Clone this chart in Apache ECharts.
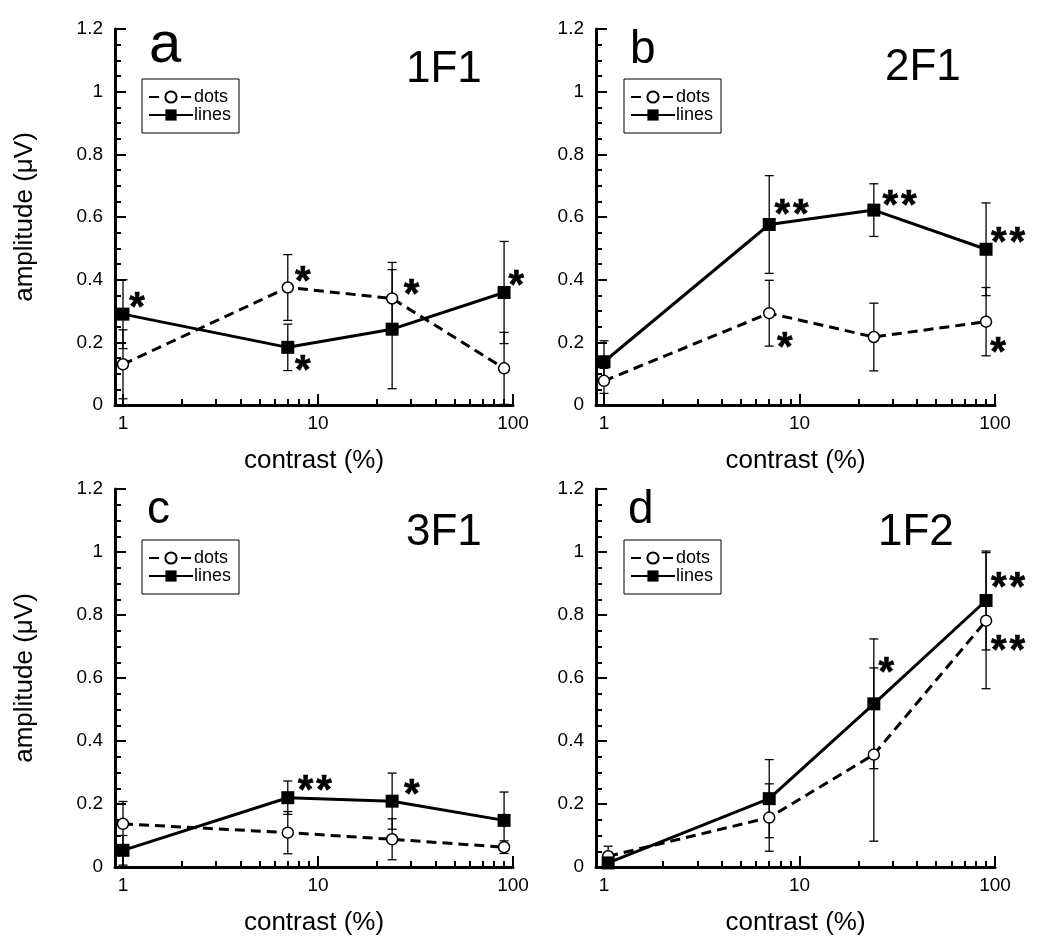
<!DOCTYPE html>
<html>
<head>
<meta charset="utf-8">
<script src="https://cdn.jsdelivr.net/npm/echarts@6/dist/echarts.min.js"></script>
<style>
  html, body { margin: 0; padding: 0; background: #fff; }
  #chart { width: 1050px; height: 947px; }
</style>
</head>
<body>
<div id="chart"></div>
<script>
// contrast levels (%)
var contrast = [1, 7, 24, 90];
var contrastD = [1.05, 7, 24, 90];

// panel a - 1F1
var dotsA = [0.13, 0.375, 0.34, 0.117];
var dotsErrA = [0.11, 0.105, 0.115, 0.115];
var linesA = [0.29, 0.184, 0.242, 0.359];
var linesErrA = [0.11, 0.074, 0.19, 0.163];
var starsA = [[1.18, 0.337, '*'], [8.36, 0.42, '*'], [8.36, 0.137, '*'], [30.2, 0.379, '*'], [104, 0.41, '*']];

// panel b - 2F1
var dotsB = [0.077, 0.293, 0.217, 0.266];
var dotsErrB = [0.04, 0.105, 0.108, 0.109];
var linesB = [0.138, 0.576, 0.622, 0.497];
var linesErrB = [0.067, 0.156, 0.084, 0.148];
var starsB = [[9.1, 0.634, '**'], [32.5, 0.664, '**'], [116.6, 0.545, '**'], [8.4, 0.212, '*'], [103.6, 0.194, '*']];

// panel c - 3F1
var dotsC = [0.137, 0.109, 0.088, 0.063];
var dotsErrC = [0.071, 0.067, 0.065, 0.02];
var linesC = [0.053, 0.22, 0.209, 0.148];
var linesErrC = [0.047, 0.053, 0.089, 0.09];
var starsC = [[9.63, 0.27, '**'], [30.3, 0.256, '*']];

// panel d - 1F2
var dotsD = [0.034, 0.157, 0.357, 0.782];
var dotsErrD = [0.032, 0.107, 0.275, 0.216];
var linesD = [0.013, 0.217, 0.518, 0.846];
var linesErrD = [0.013, 0.124, 0.206, 0.157];
var starsD = [[27.8, 0.643, '*'], [116.6, 0.915, '**'], [116.6, 0.714, '**']];

var majorTicks = [1, 10, 100];
var minorTicks = [2, 3, 4, 5, 6, 7, 8, 9, 20, 30, 40, 50, 60, 70, 80, 90];

var FONT = "'Liberation Sans', Arial, Helvetica, sans-serif";

var panels = [
  { letter: 'a', label: '1F1', xs: contrast, dots: dotsA, dotsErr: dotsErrA, lines: linesA, linesErr: linesErrA, stars: starsA,
    grid: { left: 115, top: 29, width: 398, height: 376 }, yName: true,
    legendPos: [142, 79], letterPos: [149, 46], letterSize: 58, labelPos: [406, 70] },
  { letter: 'b', label: '2F1', xs: contrast, dots: dotsB, dotsErr: dotsErrB, lines: linesB, linesErr: linesErrB, stars: starsB,
    grid: { left: 596, top: 29, width: 399, height: 376 }, yName: false,
    legendPos: [624, 79], letterPos: [630, 50], letterSize: 46, labelPos: [885, 68] },
  { letter: 'c', label: '3F1', xs: contrast, dots: dotsC, dotsErr: dotsErrC, lines: linesC, linesErr: linesErrC, stars: starsC,
    grid: { left: 115, top: 489, width: 398, height: 378 }, yName: true,
    legendPos: [142, 540], letterPos: [147, 510], letterSize: 46, labelPos: [406, 533] },
  { letter: 'd', label: '1F2', xs: contrastD, dots: dotsD, dotsErr: dotsErrD, lines: linesD, linesErr: linesErrD, stars: starsD,
    grid: { left: 596, top: 489, width: 399, height: 378 }, yName: false,
    legendPos: [624, 540], letterPos: [628, 510], letterSize: 46, labelPos: [878, 533] }
];

function errorBars(xs, vals, errs) {
  return xs.map(function (x, k) { return [x, vals[k] - errs[k], vals[k] + errs[k]]; });
}

function renderErr(params, api) {
  var lo = api.coord([api.value(0), api.value(1)]);
  var hi = api.coord([api.value(0), api.value(2)]);
  var w = 4.5;
  var st = { stroke: '#000', lineWidth: 1.3 };
  return {
    type: 'group',
    children: [
      { type: 'line', shape: { x1: lo[0], y1: lo[1], x2: hi[0], y2: hi[1] }, style: st },
      { type: 'line', shape: { x1: lo[0] - w, y1: lo[1], x2: lo[0] + w, y2: lo[1] }, style: st },
      { type: 'line', shape: { x1: hi[0] - w, y1: hi[1], x2: hi[0] + w, y2: hi[1] }, style: st }
    ]
  };
}

var grids = [], xAxes = [], yAxes = [], series = [], legends = [], graphics = [];

panels.forEach(function (p, i) {
  grids.push(p.grid);

  xAxes.push({
    type: 'log', logBase: 10, gridIndex: i, position: 'bottom', min: 0.91, max: 100,
    name: 'contrast (%)', nameLocation: 'middle', nameGap: 43,
    nameTextStyle: { fontSize: 26, color: '#000', fontFamily: FONT },
    axisLine: { lineStyle: { color: '#000', width: 3 } },
    axisTick: { inside: true, length: 11, customValues: majorTicks, lineStyle: { color: '#000', width: 2 } },
    axisLabel: { customValues: majorTicks, fontSize: 19, color: '#000', margin: 9, fontFamily: FONT },
    splitLine: { show: false }
  });
  xAxes.push({
    type: 'log', logBase: 10, gridIndex: i, position: 'bottom', offset: 0, min: 0.91, max: 100,
    axisLine: { show: false },
    axisTick: { inside: true, length: 6, customValues: minorTicks, lineStyle: { color: '#000', width: 2 } },
    axisLabel: { show: false },
    splitLine: { show: false }
  });

  yAxes.push({
    type: 'value', gridIndex: i, min: 0, max: 1.2, interval: 0.2,
    name: p.yName ? 'amplitude (\u03bcV)' : '', nameLocation: 'middle', nameGap: 77,
    nameTextStyle: { fontSize: 26, color: '#000', fontFamily: FONT },
    axisLine: { show: true, lineStyle: { color: '#000', width: 3 } },
    axisTick: { show: true, inside: true, length: 11, lineStyle: { color: '#000', width: 2 } },
    minorTick: { show: true, splitNumber: 4, length: 6, lineStyle: { color: '#000', width: 2 } },
    axisLabel: { fontSize: 19, color: '#000', margin: 12, fontFamily: FONT },
    splitLine: { show: false },
    minorSplitLine: { show: false }
  });

  var xi = 2 * i;

  series.push({
    type: 'custom', xAxisIndex: xi, yAxisIndex: i, z: 1, silent: true,
    encode: { x: 0, y: [1, 2] },
    data: errorBars(p.xs, p.dots, p.dotsErr), renderItem: renderErr
  });
  series.push({
    type: 'custom', xAxisIndex: xi, yAxisIndex: i, z: 1, silent: true,
    encode: { x: 0, y: [1, 2] },
    data: errorBars(p.xs, p.lines, p.linesErr), renderItem: renderErr
  });

  series.push({
    name: 'dots', type: 'line', xAxisIndex: xi, yAxisIndex: i, z: 3,
    data: p.xs.map(function (x, k) { return [x, p.dots[k]]; }),
    symbol: 'circle', symbolSize: 11, showAllSymbol: true,
    lineStyle: { color: '#000', width: 3, type: [10, 6] },
    itemStyle: { color: '#fff', borderColor: '#000', borderWidth: 1.5 }
  });
  series.push({
    name: 'lines', type: 'line', xAxisIndex: xi, yAxisIndex: i, z: 4,
    data: p.xs.map(function (x, k) { return [x, p.lines[k]]; }),
    symbol: 'rect', symbolSize: 13, showAllSymbol: true,
    lineStyle: { color: '#000', width: 3, type: 'solid' },
    itemStyle: { color: '#000', borderWidth: 0 }
  });

  // significance asterisks
  series.push({
    type: 'scatter', xAxisIndex: xi, yAxisIndex: i, z: 5, silent: true, clip: false,
    data: p.stars, symbol: 'circle', symbolSize: 1,
    itemStyle: { color: 'transparent', opacity: 1 },
    label: {
      show: true, position: 'inside', offset: [0, 10],
      formatter: function (d) {
        return d.value[2].split('').map(function () { return '{s|*}'; }).join('{g| }');
      },
      rich: {
        s: { color: '#000', opacity: 1, fontSize: 40, fontWeight: 'bold', fontFamily: FONT, textBorderColor: '#000', textBorderWidth: 0.6 },
        g: { fontSize: 10, fontFamily: FONT }
      }
    }
  });

  legends.push({
    data: ['dots', 'lines'], orient: 'vertical', selectedMode: false,
    left: p.legendPos[0], top: p.legendPos[1],
    itemWidth: 44, itemHeight: 14, itemGap: 0,
    padding: [9, 8, 9, 6], borderColor: '#000', borderWidth: 1,
    textStyle: { fontSize: 18, lineHeight: 17, color: '#000', fontFamily: FONT, padding: [0, 0, 0, -4] }
  });

  graphics.push({
    type: 'text', x: p.letterPos[0], y: p.letterPos[1],
    style: { text: p.letter, font: p.letterSize + 'px ' + FONT, fill: '#000', verticalAlign: 'middle' }
  });
  graphics.push({
    type: 'text', x: p.labelPos[0], y: p.labelPos[1],
    style: { text: p.label, font: '44px ' + FONT, fill: '#000', verticalAlign: 'middle' }
  });
});

var chart = echarts.init(document.getElementById('chart'));
chart.setOption({
  animation: false,
  backgroundColor: '#fff',
  grid: grids,
  xAxis: xAxes,
  yAxis: yAxes,
  legend: legends,
  series: series,
  graphic: graphics
});
</script>
</body>
</html>
